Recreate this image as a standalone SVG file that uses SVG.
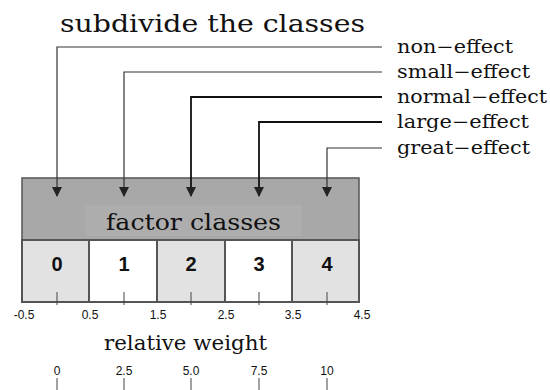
<svg xmlns="http://www.w3.org/2000/svg" width="550" height="390" viewBox="0 0 550 390">
<defs>
<style>
.serif{font-family:"DejaVu Serif","Liberation Serif",serif;fill:#111}
.sans{font-family:"Liberation Sans",Arial,sans-serif;fill:#111}
.lbl{font-size:18px}
.num{font-size:20px;font-weight:bold;text-anchor:middle}
.ax{font-size:12px;text-anchor:middle}
.con{fill:none;stroke:#333;stroke-width:1.2}
.thick{stroke:#111;stroke-width:1.8}
.tick{stroke:#444;stroke-width:1}
.cell{stroke:#555;stroke-width:2}
</style>
<marker id="ah" viewBox="0 0 10 10" refX="9" refY="5" markerWidth="10" markerHeight="10" markerUnits="userSpaceOnUse" orient="auto">
<path d="M0,0 L10,5 L0,10 z" fill="#222"/>
</marker>
</defs>
<rect width="550" height="390" fill="#fff"/>
<text class="serif" x="60" y="32" font-size="25" textLength="305" lengthAdjust="spacingAndGlyphs">subdivide the classes</text>

<g id="factor-classes">
<rect x="22" y="178" width="337" height="62" fill="#a8a8a8" stroke="#555" stroke-width="1.5"/>
<rect x="85" y="205" width="217" height="31" fill="#adadad"/>
<text class="serif" x="106" y="230" font-size="23" textLength="175" lengthAdjust="spacingAndGlyphs">factor classes</text>
</g>

<g id="cell-0"><rect class="cell" x="22" y="240" width="67" height="62" fill="#e2e2e2"/><text class="sans num" x="57" y="271">0</text></g>
<g id="cell-1"><rect class="cell" x="89" y="240" width="68" height="62" fill="#fff"/><text class="sans num" x="124" y="271">1</text></g>
<g id="cell-2"><rect class="cell" x="157" y="240" width="68" height="62" fill="#e2e2e2"/><text class="sans num" x="191" y="271">2</text></g>
<g id="cell-3"><rect class="cell" x="225" y="240" width="67" height="62" fill="#fff"/><text class="sans num" x="259" y="271">3</text></g>
<g id="cell-4"><rect class="cell" x="292" y="240" width="67" height="62" fill="#e2e2e2"/><text class="sans num" x="327" y="271">4</text></g>

<g id="labels">
<text class="serif lbl" x="397" y="53" textLength="116" lengthAdjust="spacingAndGlyphs">non−effect</text>
<text class="serif lbl" x="397" y="78" textLength="133" lengthAdjust="spacingAndGlyphs">small−effect</text>
<text class="serif lbl" x="397" y="103" textLength="150" lengthAdjust="spacingAndGlyphs">normal−effect</text>
<text class="serif lbl" x="397" y="128" textLength="132" lengthAdjust="spacingAndGlyphs">large−effect</text>
<text class="serif lbl" x="397" y="154" textLength="133" lengthAdjust="spacingAndGlyphs">great−effect</text>
</g>

<g id="connectors">
<path class="con" d="M382,47 H57 V196" marker-end="url(#ah)"/>
<path class="con" d="M382,72 H124 V196" marker-end="url(#ah)"/>
<path class="con thick" d="M382,97 H191 V196" marker-end="url(#ah)"/>
<path class="con thick" d="M382,122 H259 V196" marker-end="url(#ah)"/>
<path class="con" d="M382,148 H327 V196" marker-end="url(#ah)"/>
</g>

<g id="axis-top">
<path class="tick" d="M57,292 V305 M124,292 V305 M191,292 V305 M259,292 V305 M327,292 V305"/>
<text class="sans ax" x="24" y="319">-0.5</text>
<text class="sans ax" x="90" y="319">0.5</text>
<text class="sans ax" x="158" y="319">1.5</text>
<text class="sans ax" x="226" y="319">2.5</text>
<text class="sans ax" x="293" y="319">3.5</text>
<text class="sans ax" x="362" y="319">4.5</text>
</g>

<text class="serif" x="104" y="350" font-size="21" textLength="163" lengthAdjust="spacingAndGlyphs">relative weight</text>

<g id="axis-bottom">
<text class="sans ax" x="57" y="375">0</text>
<text class="sans ax" x="124" y="375">2.5</text>
<text class="sans ax" x="191" y="375">5.0</text>
<text class="sans ax" x="259" y="375">7.5</text>
<text class="sans ax" x="327" y="375">10</text>
<path class="tick" d="M57,378 V390 M124,378 V390 M191,378 V390 M259,378 V390 M327,378 V390"/>
</g>
</svg>
